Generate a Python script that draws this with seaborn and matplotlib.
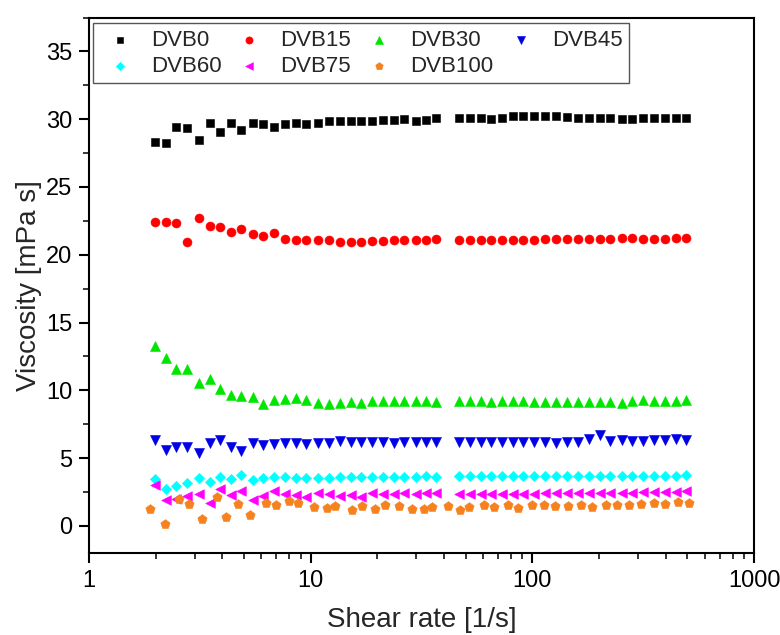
"""Viscosity vs shear rate for the DVB series, redrawn with seaborn."""

import matplotlib

matplotlib.use("Agg")
import matplotlib.pyplot as plt
import seaborn as sns
from matplotlib.ticker import FixedLocator, LogLocator, MultipleLocator, NullFormatter

# shear rate grid shared by DVB0..DVB75 [1/s]
SHEAR_RATE = [
    1.98, 2.22, 2.48, 2.76, 3.14, 3.53, 3.89, 4.39, 4.87, 5.49,
    6.12, 6.83, 7.66, 8.55, 9.57, 10.8, 12.1, 13.5, 15.2, 16.9,
    19.0, 21.2, 23.7, 26.5, 29.8, 33.3, 36.9,
    46.7, 52.1, 58.4, 65.3, 73.2, 81.7, 91.2, 102, 114, 128,
    144, 160, 180, 201, 225, 254, 282, 316, 353, 396, 443, 494,
]
# DVB100 was measured on its own grid
SHEAR_RATE_DVB100 = [
    1.89, 2.20, 2.56, 2.83, 3.25, 3.78, 4.17, 4.72, 5.31, 6.27,
    7.00, 7.98, 8.80, 10.4, 11.8, 12.9, 15.4, 17.1, 19.6, 21.6,
    25.0, 28.7, 32.5, 35.3,
    41.6, 47.0, 51.8, 60.3, 67.1, 77.6, 86.1, 99.6, 113, 127,
    145, 166, 186, 216, 241, 272, 308, 355, 396, 456, 509,
]

DVB0 = [
    28.29, 28.24, 29.42, 29.32, 28.49, 29.74, 29.08, 29.74, 29.18, 29.72,
    29.62, 29.45, 29.65, 29.72, 29.67, 29.74, 29.89, 29.87, 29.89, 29.89,
    29.89, 29.94, 29.94, 29.98, 29.89, 29.94, 30.09,
    30.09, 30.06, 30.06, 30.04, 30.06, 30.21, 30.21, 30.21, 30.23, 30.21,
    30.16, 30.09, 30.06, 30.06, 30.06, 30.04, 30.04, 30.09, 30.11, 30.11, 30.11, 30.11,
]
DVB15 = [
    22.39, 22.44, 22.34, 20.91, 22.71, 22.09, 22.04, 21.70, 21.92, 21.55,
    21.40, 21.57, 21.20, 21.08, 21.06, 21.08, 21.06, 20.96, 20.96, 20.96,
    21.03, 21.03, 21.08, 21.11, 21.11, 21.11, 21.16,
    21.11, 21.11, 21.08, 21.08, 21.08, 21.08, 21.08, 21.08, 21.13, 21.13,
    21.13, 21.16, 21.18, 21.16, 21.20, 21.23, 21.23, 21.20, 21.20, 21.20, 21.23, 21.25,
]
DVB30 = [
    13.28, 12.37, 11.56, 11.56, 10.53, 10.83, 10.09, 9.62, 9.55, 9.50,
    8.98, 9.30, 9.37, 9.45, 9.30, 9.10, 9.00, 9.10, 9.15, 9.10,
    9.18, 9.23, 9.18, 9.18, 9.18, 9.18, 9.13,
    9.18, 9.18, 9.18, 9.15, 9.18, 9.18, 9.18, 9.15, 9.15, 9.15,
    9.15, 9.15, 9.15, 9.15, 9.15, 9.10, 9.25, 9.30, 9.25, 9.25, 9.25, 9.27,
]
DVB45 = [
    6.30, 5.61, 5.85, 5.85, 5.36, 6.10, 6.30, 5.85, 5.56, 6.15,
    5.98, 6.03, 6.10, 6.10, 6.03, 6.15, 6.15, 6.27, 6.17, 6.17,
    6.22, 6.22, 6.15, 6.22, 6.22, 6.22, 6.17,
    6.22, 6.22, 6.22, 6.22, 6.22, 6.22, 6.22, 6.22, 6.22, 6.15,
    6.22, 6.22, 6.40, 6.72, 6.27, 6.30, 6.25, 6.25, 6.35, 6.30, 6.40, 6.30,
]
DVB60 = [
    3.47, 2.73, 2.97, 3.20, 3.52, 3.27, 3.64, 3.47, 3.76, 3.39,
    3.57, 3.64, 3.64, 3.57, 3.57, 3.57, 3.57, 3.64, 3.64, 3.64,
    3.64, 3.64, 3.64, 3.64, 3.64, 3.69, 3.64,
    3.67, 3.69, 3.69, 3.69, 3.69, 3.69, 3.69, 3.69, 3.69, 3.69,
    3.69, 3.69, 3.69, 3.69, 3.69, 3.69, 3.69, 3.69, 3.69, 3.69, 3.69, 3.72,
]
DVB75 = [
    3.00, 1.90, 1.98, 2.22, 2.38, 1.68, 2.71, 2.28, 2.55, 1.92,
    2.21, 2.55, 2.36, 2.28, 2.16, 2.46, 2.36, 2.21, 2.29, 2.16,
    2.46, 2.34, 2.34, 2.41, 2.36, 2.41, 2.41,
    2.34, 2.34, 2.36, 2.36, 2.38, 2.38, 2.38, 2.38, 2.41, 2.41,
    2.41, 2.41, 2.43, 2.43, 2.43, 2.46, 2.46, 2.48, 2.48, 2.48, 2.53, 2.58,
]
DVB100 = [
    1.25, 0.15, 1.97, 1.62, 0.52, 2.12, 0.64, 1.60, 0.83, 1.70,
    1.55, 1.85, 1.72, 1.42, 1.30, 1.50, 1.18, 1.48, 1.23, 1.55,
    1.50, 1.23, 1.28, 1.38,
    1.48, 1.21, 1.43, 1.55, 1.38, 1.55, 1.35, 1.53, 1.53, 1.50,
    1.50, 1.53, 1.43, 1.57, 1.57, 1.57, 1.62, 1.72, 1.62, 1.77, 1.67,
]

LABELS = ["DVB0", "DVB15", "DVB30", "DVB45", "DVB60", "DVB75", "DVB100"]
X_TICKS = [1, 10, 100, 1000]
X_TICK_LABELS = ["1", "10", "100", "1000"]
Y_TICKS = [0, 5, 10, 15, 20, 25, 30, 35]

# (x, y, marker, colour, marker area)
SERIES = [
    (SHEAR_RATE, DVB0, "s", "#000000", 36),
    (SHEAR_RATE, DVB15, "o", "#FF0000", 42),
    (SHEAR_RATE, DVB30, "^", "#00E600", 52),
    (SHEAR_RATE, DVB45, "v", "#0000E6", 52),
    (SHEAR_RATE, DVB60, "D", "#00FFFF", 28),
    (SHEAR_RATE, DVB75, "<", "#FF00FF", 48),
    (SHEAR_RATE_DVB100, DVB100, "p", "#F5821F", 50),
]


def main() -> None:
    sns.set_theme(style="ticks")
    plt.rcParams["font.family"] = ["Liberation Sans", "DejaVu Sans"]

    fig = plt.figure(figsize=(7.8, 6.35), dpi=100)
    ax = fig.add_axes([0.1141, 0.1291, 0.8526, 0.8433])

    for (x, y, marker, color, size), label in zip(SERIES, LABELS):
        sns.scatterplot(
            x=x, y=y, marker=marker, color=color, s=size,
            edgecolor=color, linewidth=0.4, label=label, ax=ax, legend=False,
        )

    ax.set_xscale("log")
    ax.set_xlim(1, 1000)
    ax.set_ylim(-2, 37.5)

    ax.xaxis.set_major_locator(FixedLocator(X_TICKS))
    ax.set_xticklabels(X_TICK_LABELS)
    ax.xaxis.set_minor_locator(LogLocator(base=10, subs=range(2, 10)))
    ax.xaxis.set_minor_formatter(NullFormatter())
    ax.set_yticks(Y_TICKS)
    ax.yaxis.set_minor_locator(MultipleLocator(2.5))

    ax.tick_params(which="major", direction="out", length=7, width=1.5,
                   labelsize=17, colors="black", pad=5)
    ax.tick_params(which="minor", direction="out", length=4, width=1.3)
    for spine in ax.spines.values():
        spine.set_color("black")
        spine.set_linewidth(1.5)

    ax.set_xlabel("Shear rate [1/s]", fontsize=20, labelpad=11)
    ax.set_ylabel("Viscosity [mPa s]", fontsize=20, labelpad=3)
    ax.grid(False)

    # row-major order for a 4-column legend
    handles, labels = ax.get_legend_handles_labels()
    order = [0, 4, 1, 5, 2, 6, 3]
    ax.legend(
        [handles[i] for i in order], [labels[i] for i in order],
        ncol=4, loc="upper left", bbox_to_anchor=(0.006, 0.989), borderaxespad=0,
        frameon=True, fancybox=False, edgecolor="#555555", framealpha=1,
        fontsize=16, handletextpad=0.5, columnspacing=0.35,
        borderpad=0.3, labelspacing=0.2, handlelength=1.8, markerscale=0.8,
    )

    fig.savefig("out.png", dpi=100)
    plt.close(fig)


if __name__ == "__main__":
    main()
